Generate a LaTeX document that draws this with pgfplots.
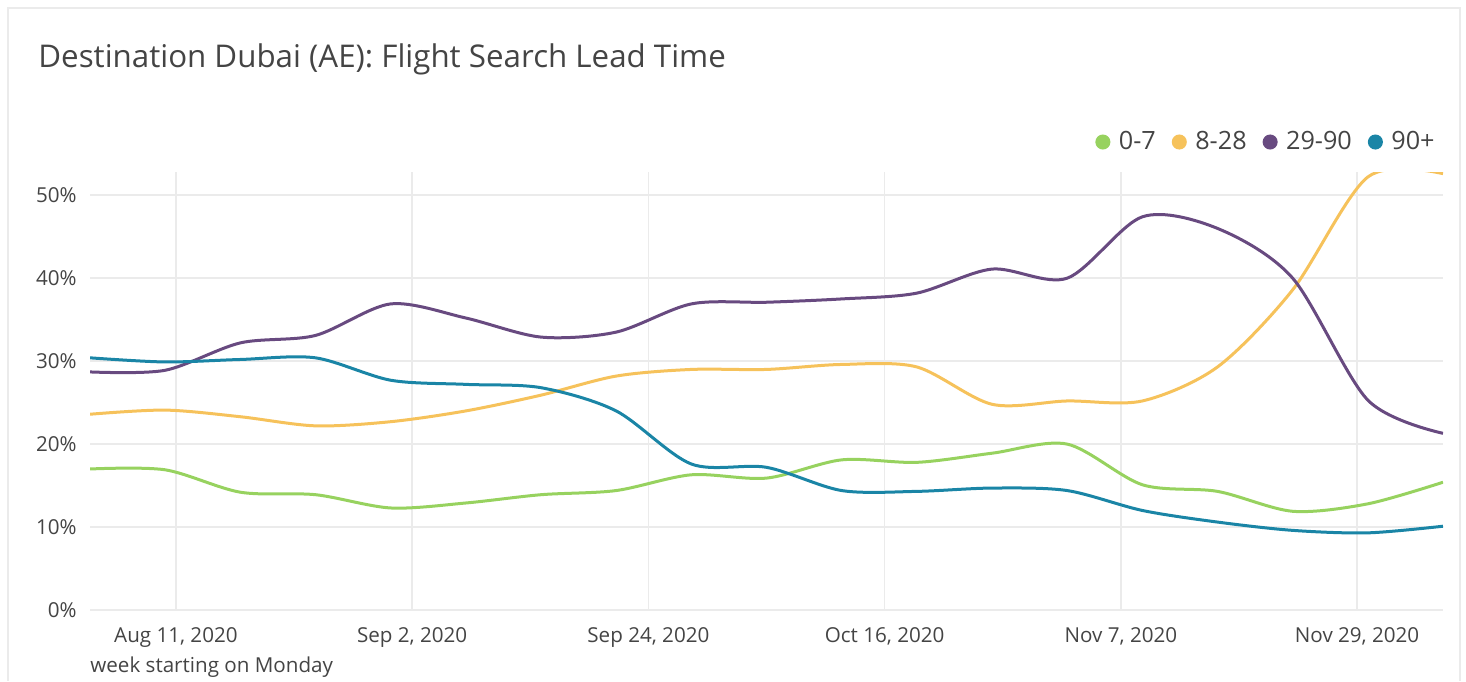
\documentclass[border=0pt]{standalone}
\usepackage{pgfplots}
\pgfplotsset{compat=1.18}
\usepackage{fontspec}
\setmainfont{Open Sans}
\definecolor{cgreen}{HTML}{97D25F}
\definecolor{cyellow}{HTML}{F6C25B}
\definecolor{cpurple}{HTML}{684A80}
\definecolor{cteal}{HTML}{1A85A6}
\definecolor{txt}{HTML}{444444}
\definecolor{gridc}{HTML}{EBEBEB}
\begin{document}
\begin{tikzpicture}
\useasboundingbox (0,0) rectangle (733pt,340.5pt);
\draw[gridc, line width=0.6pt] (4pt,0) -- (4pt,336.5pt) -- (730pt,336.5pt) -- (730pt,0);
\node[anchor=base west, inner sep=0pt, text=txt, font=\fontsize{15.65}{18}\selectfont] at (19pt,306.5pt) {Destination Dubai (AE): Flight Search Lead Time};
\node[anchor=base west, inner sep=0pt, text=txt, font=\fontsize{10.3}{12}\selectfont] at (45pt,4.5pt) {week starting on Monday};
\begin{axis}[
  at={(45pt,35.5pt)}, anchor=south west,
  scale only axis, width=676.5pt, height=219pt,
  xmin=0, xmax=126, ymin=0, ymax=52.8,
  axis line style={draw=none},
  major tick style={draw=none},
  xtick={8,30,52,74,96,118},
  xticklabels={{Aug 11, 2020},{Sep 2, 2020},{Sep 24, 2020},{Oct 16, 2020},{Nov 7, 2020},{Nov 29, 2020}},
  ytick={0,10,20,30,40,50},
  yticklabel={\pgfmathprintnumber{\tick}\%},
  /pgf/number format/assume math mode=true,
  xmajorgrids, ymajorgrids,
  grid style={gridc, line width=0.8pt},
  tick label style={text=txt, font=\fontsize{10.3}{12}\selectfont},
  xticklabel style={inner sep=0pt, anchor=north, yshift=-8.5pt},
  yticklabel style={inner sep=0pt, anchor=east, xshift=-6.5pt},
  legend columns=4,
  legend style={at={(rel axis cs:1,1)}, anchor=east, yshift=15pt, xshift=1pt,
    draw=none, fill=none, text=txt, font=\fontsize{12.6}{14}\selectfont,
    /tikz/every even column/.append style={column sep=6pt}},
  legend image code/.code={\fill[#1] (0pt,0pt) circle (3pt); \path[draw=none,fill=none] (0pt,0pt) rectangle (6pt,0pt);},
  every axis plot/.append style={line width=1.5pt, smooth, tension=0.5},
]
\addplot[color=cgreen] coordinates {(0,17.0)(7,16.9)(14,14.2)(21,13.9)(28,12.3)(35,12.9)(42,13.9)(49,14.4)(56,16.3)(63,15.9)(70,18.1)(77,17.8)(84,18.9)(91,20.0)(98,15.1)(105,14.3)(112,11.9)(119,12.8)(126,15.4)};
\addlegendentry{0-7}
\addplot[color=cyellow] coordinates {(0,23.6)(7,24.1)(14,23.3)(21,22.2)(28,22.7)(35,24.0)(42,25.9)(49,28.2)(56,29.0)(63,29.0)(70,29.6)(77,29.3)(84,24.8)(91,25.2)(98,25.2)(105,29.3)(112,38.6)(119,52.2)(126,52.6)};
\addlegendentry{8-28}
\addplot[color=cpurple] coordinates {(0,28.7)(7,28.9)(14,32.2)(21,33.1)(28,36.9)(35,35.2)(42,32.9)(49,33.5)(56,36.9)(63,37.1)(70,37.5)(77,38.2)(84,41.1)(91,40.0)(98,47.4)(105,46.0)(112,40.0)(119,25.3)(126,21.3)};
\addlegendentry{29-90}
\addplot[color=cteal] coordinates {(0,30.4)(7,29.9)(14,30.2)(21,30.4)(28,27.7)(35,27.2)(42,26.8)(49,24.0)(56,17.6)(63,17.2)(70,14.4)(77,14.3)(84,14.7)(91,14.4)(98,12.0)(105,10.6)(112,9.6)(119,9.3)(126,10.1)};
\addlegendentry{90+}
\end{axis}
\end{tikzpicture}
\end{document}
